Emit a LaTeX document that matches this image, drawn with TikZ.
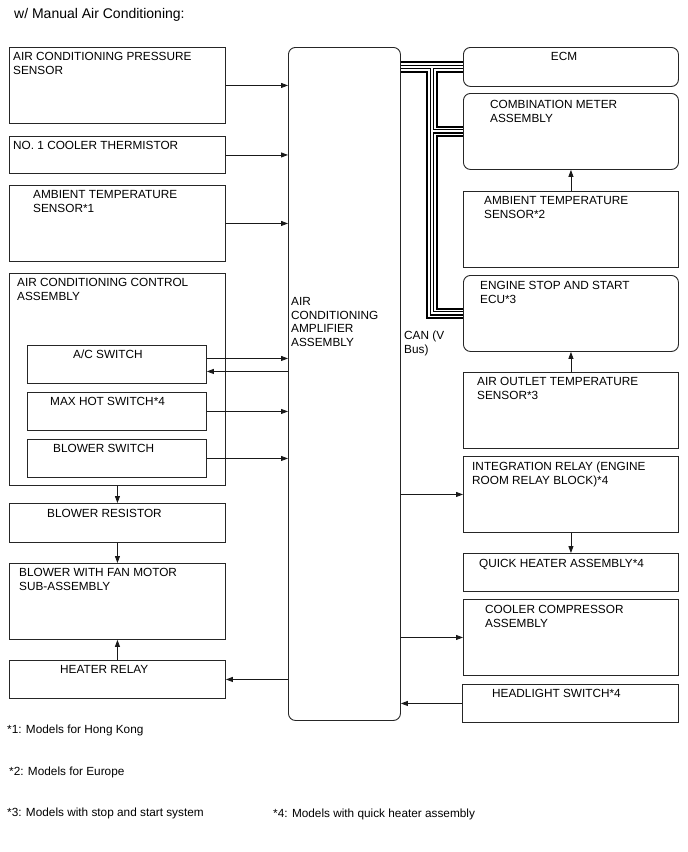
\documentclass[tikz,border=0pt]{standalone}
\usepackage{fontspec}
\setmainfont{Liberation Sans}
\usetikzlibrary{arrows.meta,calc}
\begin{document}
\begin{tikzpicture}[x=1pt,y=-1pt,
  box/.style={draw=black!85, line width=0.9pt, inner sep=0pt, anchor=north west},
  rbox/.style={box, rounded corners=7pt},
  lbl/.style={anchor=north west, inner sep=0pt, align=left, font=\fontsize{11.8}{14}\selectfont},
  arr/.style={draw=black!90, line width=0.8pt, -{Triangle[length=7pt,width=5pt]}},
  ]
\useasboundingbox (0,0) rectangle (688,852);

% title
\node[lbl, font=\fontsize{14}{16}\selectfont] (title) at (14,8) {w/ Manual Air Conditioning:};

% left column
\node[box, minimum width=216pt, minimum height=76pt] (aps) at (9,47) {};
\node[box, minimum width=216pt, minimum height=37pt] (therm) at (9,136) {};
\node[box, minimum width=216pt, minimum height=76pt] (amb1) at (9,185) {};
\node[box, minimum width=216pt, minimum height=212pt] (ctrl) at (9,273) {};
\node[box, minimum width=179pt, minimum height=38pt] (acsw) at (27,345) {};
\node[box, minimum width=179pt, minimum height=38pt] (maxhot) at (27,392) {};
\node[box, minimum width=179pt, minimum height=38pt] (blsw) at (27,439) {};
\node[box, minimum width=216pt, minimum height=39pt] (res) at (9,503) {};
\node[box, minimum width=216pt, minimum height=76pt] (fan) at (9,563) {};
\node[box, minimum width=216pt, minimum height=38pt] (heater) at (9,660) {};

% amplifier
\node[rbox, minimum width=112pt, minimum height=673pt] (amp) at (288,47) {};

% right column
\node[rbox, minimum width=215pt, minimum height=39pt] (ecm) at (463,47) {};
\node[rbox, minimum width=215pt, minimum height=76pt] (meter) at (463,93) {};
\node[box, minimum width=215pt, minimum height=76pt] (amb2) at (463,191) {};
\node[rbox, minimum width=215pt, minimum height=76pt] (eng) at (463,275) {};
\node[box, minimum width=215pt, minimum height=76pt] (outlet) at (463,372) {};
\node[box, minimum width=215pt, minimum height=76pt] (integ) at (463,456) {};
\node[box, minimum width=215pt, minimum height=38pt] (quick) at (463,553) {};
\node[box, minimum width=215pt, minimum height=76pt] (cooler) at (463,599) {};
\node[box, minimum width=216pt, minimum height=38pt] (head) at (462,684) {};

% labels
\node[lbl] (taps) at (13,52.5) {AIR CONDITIONING PRESSURE\\SENSOR};
\node[lbl] (ttherm) at (13,141.5) {NO. 1 COOLER THERMISTOR};
\node[lbl] (tamb1) at (33,190.5) {AMBIENT TEMPERATURE\\SENSOR*1};
\node[lbl] (tctrl) at (17,278.5) {AIR CONDITIONING CONTROL\\ASSEMBLY};
\node[lbl] (tacsw) at (73,349.5) {A/C SWITCH};
\node[lbl] (tmaxhot) at (50,397.5) {MAX HOT SWITCH*4};
\node[lbl] (tblsw) at (53,444.5) {BLOWER SWITCH};
\node[lbl] (tres) at (47,509.5) {BLOWER RESISTOR};
\node[lbl] (tfan) at (19,568.5) {BLOWER WITH FAN MOTOR\\SUB-ASSEMBLY};
\node[lbl] (theater) at (60,665.5) {HEATER RELAY};
\node[lbl, font=\fontsize{11.8}{13.5}\selectfont] (tamp) at (291,297.5) {AIR\\CONDITIONING\\AMPLIFIER\\ASSEMBLY};
\node[lbl] (tcan) at (404,330.5) {CAN (V\\Bus)};
\node[lbl, anchor=north] (tecm) at (564,52.5) {ECM};
\node[lbl] (tmeter) at (490,100.5) {COMBINATION METER\\ASSEMBLY};
\node[lbl] (tamb2) at (484,196.5) {AMBIENT TEMPERATURE\\SENSOR*2};
\node[lbl] (teng) at (480,281.5) {ENGINE STOP AND START\\ECU*3};
\node[lbl] (toutlet) at (477,377.5) {AIR OUTLET TEMPERATURE\\SENSOR*3};
\node[lbl] (tinteg) at (472,461.5) {INTEGRATION RELAY (ENGINE\\ROOM RELAY BLOCK)*4};
\node[lbl] (tquick) at (479,559.5) {QUICK HEATER ASSEMBLY*4};
\node[lbl] (tcooler) at (485,605.5) {COOLER COMPRESSOR\\ASSEMBLY};
\node[lbl] (thead) at (492,689.5) {HEADLIGHT SWITCH*4};

% footnotes
\node[lbl] (f1) at (7,724.5) {*1: Models for Hong Kong};
\node[lbl] (f2) at (9,766.5) {*2: Models for Europe};
\node[lbl] (f3) at (7,807.5) {*3: Models with stop and start system};
\node[lbl] (f4) at (273,808.5) {*4: Models with quick heater assembly};

% arrows left -> amp
\draw[arr] (aps.east) -- (aps.east -| amp.west);
\draw[arr] (therm.east) -- (therm.east -| amp.west);
\draw[arr] (amb1.east) -- (amb1.east -| amp.west);
\draw[arr] ($(acsw.east)+(0,-6)$) -- ($(acsw.east -| amp.west)+(0,-6)$);
\draw[arr] ($(acsw.east -| amp.west)+(0,7)$) -- ($(acsw.east)+(0,7)$);
\draw[arr] (maxhot.east) -- (maxhot.east -| amp.west);
\draw[arr] (blsw.east) -- (blsw.east -| amp.west);
\draw[arr] (heater.east -| amp.west) -- (heater.east);
\draw[arr] (ctrl.south) -- (res.north);
\draw[arr] (res.south) -- (fan.north);
\draw[arr] (heater.north) -- (fan.south);

% right arrows
\draw[arr] (amb2.north) -- (meter.south);
\draw[arr] (outlet.north) -- (eng.south);
\draw[arr] (integ.south) -- (quick.north);
\draw[arr] (integ.west -| amp.east) -- (integ.west);
\draw[arr] (cooler.west -| amp.east) -- (cooler.west);
\draw[arr] (head.west) -- (head.west -| amp.east);

% CAN bus
\coordinate (b0) at (amp.east |- ecm.west);
\coordinate (tx) at (432,66.5);
\foreach \w/\c in {11.5/black,7.5/white,4.5/black,2/white} {
  \draw[line width=\w pt, draw=\c] (b0) -- (ecm.west)
    (tx) -- (tx |- eng.west) -- (eng.west)
    (tx |- meter.west) -- (meter.west);
}
\end{tikzpicture}
\end{document}
